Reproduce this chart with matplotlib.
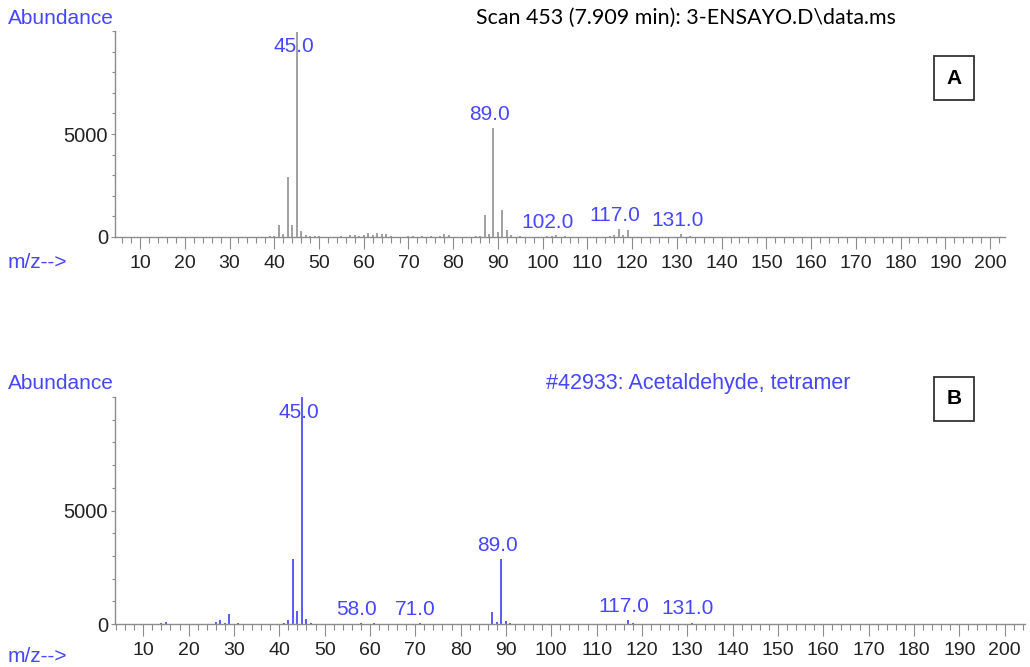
import matplotlib
matplotlib.use("Agg")
import matplotlib.pyplot as plt
from matplotlib.ticker import MultipleLocator, FixedLocator

# scan 453 (sample)
mz_a = [39, 40, 41, 42, 43, 44, 45, 46, 47, 48, 49, 50, 55, 57, 58, 59, 60, 61, 62, 63, 64,
        65, 66, 70, 71, 73, 75, 77, 78, 79, 85, 86, 87, 88, 89, 90, 91, 92, 93, 95, 101,
        102, 103, 105, 115, 116, 117, 118, 119, 131, 133]
ab_a = [40, 60, 600, 160, 2910, 570, 9950, 310, 100, 60, 40, 60, 40, 80, 100, 60, 80, 170, 120, 200, 140,
        160, 60, 70, 50, 60, 40, 60, 160, 80, 40, 60, 1050, 160, 5290, 240, 1300, 320, 80, 40, 40,
        60, 80, 40, 60, 80, 380, 80, 330, 160, 40]
labels_a = [45, 89, 102, 117, 131]

# library spectrum #42933
mz_b = [14, 15, 26, 27, 28, 29, 31, 41, 42, 43, 44, 45, 46, 47, 58, 61, 71, 73, 87, 88,
        89, 90, 91, 117, 118, 131]
ab_b = [40, 110, 70, 160, 60, 450, 40, 50, 160, 2870, 570, 9999, 230, 50, 30, 30, 30, 20, 540, 80,
        2870, 130, 40, 160, 40, 60]
labels_b = [45, 58, 71, 89, 117, 131]

blue = "#4646ff"
fnt = "Liberation Sans"

fig = plt.figure(figsize=(10.3, 6.67), dpi=100)


def panel(rect, xlim, mz, ab, labs, color, letter, box_y):
    ax = fig.add_axes(rect)
    ax.vlines(mz, 0, ab, color=color, lw=1.4)
    ax.set_xlim(*xlim)
    ax.set_ylim(0, 10000)
    for s in ["top", "right"]:
        ax.spines[s].set_visible(False)
    for s in ["left", "bottom"]:
        ax.spines[s].set_color("#8c8c8c")
        ax.spines[s].set_linewidth(1.0)
    ax.xaxis.set_major_locator(FixedLocator(range(10, 201, 10)))
    ax.xaxis.set_minor_locator(MultipleLocator(2))
    ax.yaxis.set_major_locator(FixedLocator([0, 5000]))
    ax.yaxis.set_minor_locator(MultipleLocator(1000))
    ax.tick_params(axis="x", which="major", length=8.5, width=0.8, color="#8c8c8c",
                   labelsize=14, labelcolor="#222222", pad=4.5)
    ax.tick_params(axis="x", which="minor", length=4.3, width=0.8, color="#8c8c8c")
    ax.tick_params(axis="y", which="major", length=3, width=0.8, color="#8c8c8c",
                   labelsize=14.5, labelcolor="#222222", pad=2)
    ax.tick_params(axis="y", which="minor", length=2, width=0.8, color="#8c8c8c")
    for t in ax.get_xticklabels() + ax.get_yticklabels():
        t.set_fontfamily(fnt)
    for m in labs:
        h = ab[mz.index(m)]
        if h > 9000:
            ax.annotate("%.1f" % m, (m, 10000), xytext=(-2, -4), textcoords="offset points",
                        ha="center", va="top", color=blue, fontsize=15, family=fnt, zorder=1)
        else:
            ax.annotate("%.1f" % m, (m, h), xytext=(-3, 3), textcoords="offset points",
                        ha="center", va="bottom", color=blue, fontsize=15, family=fnt)
    fig.text(954 / 1030, 1 - box_y / 667, letter, ha="center", va="center",
             fontsize=15, fontweight="bold", family=fnt,
             bbox=dict(boxstyle="square,pad=0.6", fc="white", ec="#333333", lw=1.3))
    return ax


ax_a = panel([115 / 1030, 1 - 237 / 667, 890 / 1030, 206 / 667], (4.4, 203.35),
             mz_a, ab_a, labels_a, "#a0a0a0", "A", 78)
ax_b = panel([115 / 1030, 1 - 624 / 667, 910 / 1030, 227 / 667], (3.76, 204.5),
             mz_b, ab_b, labels_b, "#5a5aff", "B", 399)

# header texts
fig.text(8 / 1030, 1 - 18 / 667, "Abundance", color=blue, fontsize=15, family=fnt, va="center")
fig.text(8 / 1030, 1 - 384 / 667, "Abundance", color=blue, fontsize=15, family=fnt, va="center")
fig.text(8 / 1030, 1 - 263 / 667, "m/z-->", color=blue, fontsize=15, family=fnt, va="center")
fig.text(8 / 1030, 1 - 656 / 667, "m/z-->", color=blue, fontsize=15, family=fnt, va="center")
fig.text(476 / 1030, 1 - 18 / 667, "Scan 453 (7.909 min): 3-ENSAYO.D\\data.ms", color="black",
         fontsize=15.4, family="Lato", va="center")
fig.text(546 / 1030, 1 - 384 / 667, "#42933: Acetaldehyde, tetramer", color=blue,
         fontsize=15.5, family=fnt, va="center")

fig.savefig("out.png", dpi=100)
